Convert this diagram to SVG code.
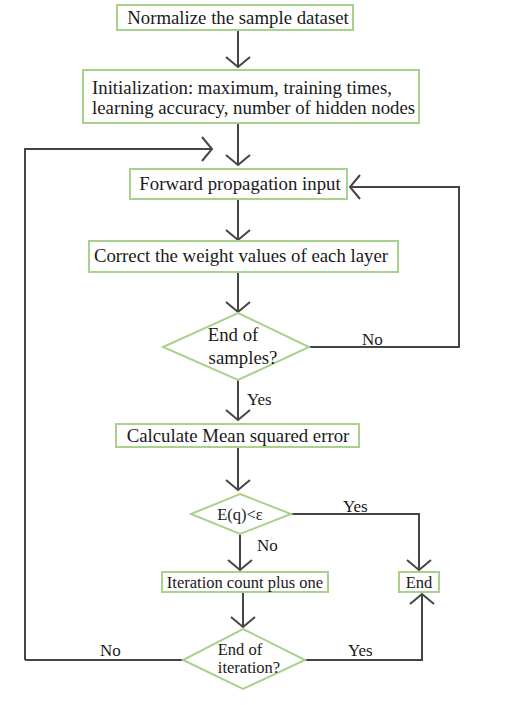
<svg xmlns="http://www.w3.org/2000/svg" width="506" height="705" viewBox="0 0 506 705">
<style>
.box{fill:#ffffff;stroke:#a9d18e;stroke-width:2}
.t{font-family:"Liberation Serif","Times New Roman",serif;font-size:18.8px;fill:#1a1a1a;text-anchor:middle}
.s{font-size:16.5px}
.lbl{font-family:"Liberation Serif","Times New Roman",serif;font-size:17px;fill:#1a1a1a}
.c{fill:none;stroke:#454545;stroke-width:2}
</style>
<defs>
<marker id="arr" markerUnits="userSpaceOnUse" viewBox="-2 -2 14 28" markerWidth="14" markerHeight="28" refX="10" refY="12" orient="auto" overflow="visible">
<path d="M0,0 L10,12 L0,24" fill="none" stroke="#454545" stroke-width="2"/>
</marker>
</defs>
<rect width="506" height="705" fill="#ffffff"/>
<g id="connectors">
<line class="c" x1="238" y1="30" x2="238" y2="67" marker-end="url(#arr)"/>
<line class="c" x1="238" y1="123" x2="238" y2="165" marker-end="url(#arr)"/>
<polyline class="c" points="25,660 25,149 212,149" marker-end="url(#arr)"/>
<line class="c" x1="238" y1="199" x2="238" y2="240" marker-end="url(#arr)"/>
<line class="c" x1="238" y1="272" x2="238" y2="312" marker-end="url(#arr)"/>
<polyline class="c" points="309,347 459,347 459,187 350,187" marker-end="url(#arr)"/>
<line class="c" x1="238" y1="380" x2="238" y2="420" marker-end="url(#arr)"/>
<line class="c" x1="238" y1="447" x2="238" y2="490" marker-end="url(#arr)"/>
<polyline class="c" points="291,514 419,514 419,570" marker-end="url(#arr)"/>
<line class="c" x1="240" y1="534" x2="240" y2="570" marker-end="url(#arr)"/>
<line class="c" x1="243" y1="592" x2="243" y2="627" marker-end="url(#arr)"/>
<polyline class="c" points="183,660 25,660"/>
<polyline class="c" points="305,660 422,660 422,594" marker-end="url(#arr)"/>
<text class="lbl" x="362" y="345">No</text>
<text class="lbl" x="247" y="405">Yes</text>
<text class="lbl" x="343" y="512">Yes</text>
<text class="lbl" x="257" y="551">No</text>
<text class="lbl" x="100" y="656">No</text>
<text class="lbl" x="348" y="656">Yes</text>
</g>
<g id="n-normalize">
<rect class="box" x="117" y="5" width="236" height="25"/>
<text class="t" x="238" y="24">Normalize the sample dataset</text>
</g>
<g id="n-init">
<rect class="box" x="83" y="70" width="336" height="53"/>
<text class="t" x="92" y="94" style="text-anchor:start">Initialization: maximum, training times,</text>
<text class="t" x="92" y="114" style="text-anchor:start">learning accuracy, number of hidden nodes</text>
</g>
<g id="n-forward">
<rect class="box" x="130" y="169" width="217" height="30"/>
<text class="t" x="240" y="190">Forward propagation input</text>
</g>
<g id="n-correct">
<rect class="box" x="89" y="241" width="309" height="31"/>
<text class="t" x="241" y="262">Correct the weight values of each layer</text>
</g>
<g id="n-samples">
<polygon class="box" points="238,313 309,347 238,380 163,347"/>
<text class="t" x="233" y="341">End of</text>
<text class="t" x="243" y="364">samples?</text>
</g>
<g id="n-mse">
<rect class="box" x="116" y="424" width="243" height="23"/>
<text class="t" x="238" y="442">Calculate Mean squared error</text>
</g>
<g id="n-eq">
<polygon class="box" points="240,494 291,514 240,534 191,514"/>
<text class="t s" x="240" y="520">E(q)&lt;ε</text>
</g>
<g id="n-iter">
<rect class="box" x="162" y="572" width="166" height="20"/>
<text class="t s" x="245" y="588">Iteration count plus one</text>
</g>
<g id="n-end">
<rect class="box" x="399" y="572" width="40" height="20"/>
<text class="t s" x="419" y="588">End</text>
</g>
<g id="n-iteration">
<polygon class="box" points="243,629 305,660 243,689 183,660"/>
<text class="t s" x="240" y="655">End of</text>
<text class="t s" x="249" y="673">iteration?</text>
</g>
</svg>
